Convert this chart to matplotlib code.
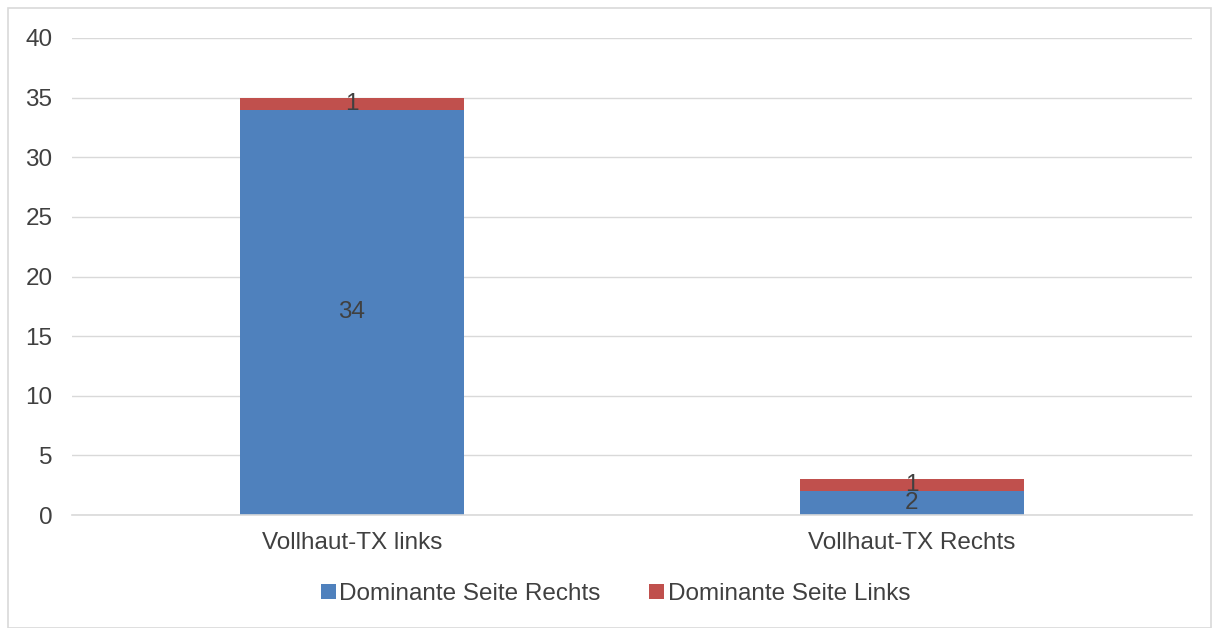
import matplotlib.pyplot as plt
import numpy as np

plt.rcParams['font.family'] = ['Liberation Sans', 'DejaVu Sans']

categories = ['Vollhaut-TX links', 'Vollhaut-TX Rechts']
rechts = [34, 2]
links = [1, 1]
series_names = ['Dominante Seite Rechts', 'Dominante Seite Links']

blue = '#4F81BD'
red = '#C0504D'
text_col = '#404040'
grid_col = '#D9D9D9'
fs = 17.5

fig = plt.figure(figsize=(12.19, 6.28), dpi=100)
ax = fig.add_axes([72 / 1219, 113 / 628, 1120 / 1219, 477 / 628])

x = np.arange(len(categories))
b1 = ax.bar(x, rechts, width=0.4, color=blue, label=series_names[0], zorder=3)
b2 = ax.bar(x, links, width=0.4, bottom=rechts, color=red, label=series_names[1], zorder=3)

for bars, vals, bottoms in [(b1, rechts, [0, 0]), (b2, links, rechts)]:
    for rect, v, b in zip(bars, vals, bottoms):
        ax.text(rect.get_x() + rect.get_width() / 2, b + v / 2, str(v),
                ha='center', va='center', fontsize=fs, color=text_col, zorder=4)

ax.set_xlim(-0.5, 1.5)
ax.set_ylim(0, 40)
ax.set_yticks(range(0, 41, 5))
ax.set_xticks(x)
ax.set_xticklabels(categories)
ax.yaxis.grid(True, color=grid_col, linewidth=1, zorder=0)
for s in ['top', 'right', 'left']:
    ax.spines[s].set_visible(False)
ax.spines['bottom'].set_color(grid_col)
ax.spines['bottom'].set_linewidth(1.2)
ax.spines['bottom'].set_zorder(5)
ax.tick_params(axis='both', length=0, labelsize=fs, colors=text_col)
ax.tick_params(axis='y', pad=14)
ax.tick_params(axis='x', pad=12)

leg = fig.legend(loc='center', bbox_to_anchor=(0.505, 1 - 594 / 628), ncol=2,
                 frameon=False, fontsize=fs, handlelength=0.6, handleheight=0.6,
                 handletextpad=0.15, columnspacing=2.0)
for t in leg.get_texts():
    t.set_color(text_col)

fig.patches.append(plt.Rectangle((8 / 1219, 0), 1 - 16 / 1219, 1 - 8 / 628,
                                 transform=fig.transFigure, fill=False,
                                 edgecolor=grid_col, linewidth=1.2))

fig.savefig('out.png', dpi=100)
